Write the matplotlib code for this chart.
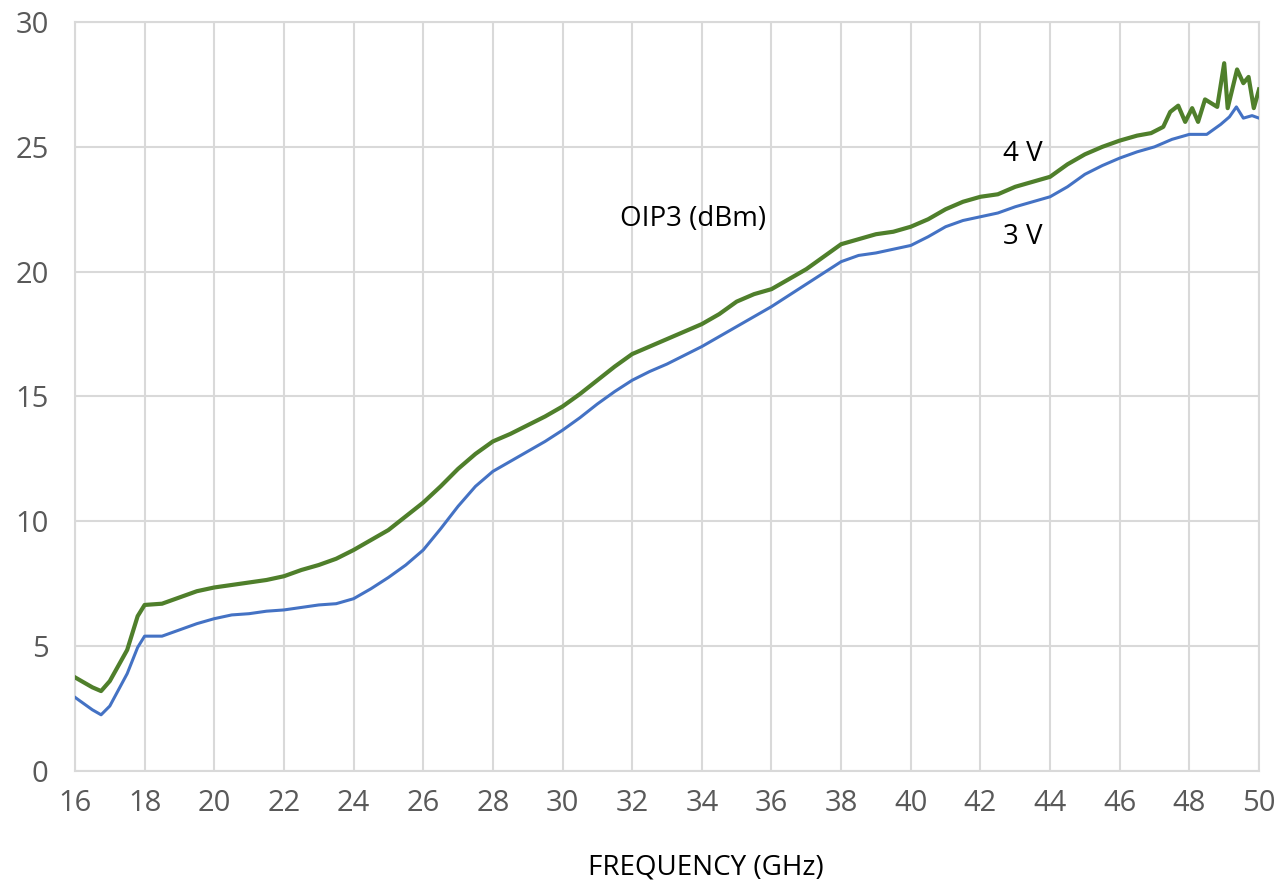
import matplotlib.pyplot as plt

# OIP3 (dBm) vs frequency
freq_4v = [16.0, 16.5, 16.75, 17.0, 17.5, 17.8, 18.0, 18.5, 19.0, 19.5, 20.0, 20.5, 21.0, 21.5,
           22.0, 22.5, 23.0, 23.5, 24.0, 24.5, 25.0, 25.5, 26.0, 26.5, 27.0, 27.5, 28.0, 28.5,
           29.0, 29.5, 30.0, 30.5, 31.0, 31.5, 32.0, 32.5, 33.0, 33.5, 34.0, 34.5, 35.0, 35.5,
           36.0, 36.5, 37.0, 37.5, 38.0, 38.5, 39.0, 39.5, 40.0, 40.5, 41.0, 41.5, 42.0, 42.5,
           43.0, 43.5, 44.0, 44.5, 45.0, 45.5, 46.0, 46.5, 46.9, 47.25, 47.45, 47.68, 47.88,
           48.08, 48.25, 48.45, 48.8, 49.0, 49.1, 49.37, 49.55, 49.7, 49.85, 50.0]
oip3_4v = [3.75, 3.35, 3.2, 3.6, 4.85, 6.2, 6.65, 6.7, 6.95, 7.2, 7.35, 7.45, 7.55, 7.65,
           7.8, 8.05, 8.25, 8.5, 8.85, 9.25, 9.65, 10.2, 10.75, 11.4, 12.1, 12.7, 13.2, 13.5,
           13.85, 14.2, 14.6, 15.1, 15.65, 16.2, 16.7, 17.0, 17.3, 17.6, 17.9, 18.3, 18.8, 19.1,
           19.3, 19.7, 20.1, 20.6, 21.1, 21.3, 21.5, 21.6, 21.8, 22.1, 22.5, 22.8, 23.0, 23.1,
           23.4, 23.6, 23.8, 24.3, 24.7, 25.0, 25.25, 25.45, 25.55, 25.8, 26.4, 26.65, 26.0,
           26.55, 26.0, 26.9, 26.6, 28.35, 26.55, 28.1, 27.55, 27.8, 26.55, 27.3]

freq_3v = [16.0, 16.5, 16.75, 17.0, 17.5, 17.8, 18.0, 18.5, 19.0, 19.5, 20.0, 20.5, 21.0, 21.5,
           22.0, 22.5, 23.0, 23.5, 24.0, 24.5, 25.0, 25.5, 26.0, 26.5, 27.0, 27.5, 28.0, 28.5,
           29.0, 29.5, 30.0, 30.5, 31.0, 31.5, 32.0, 32.5, 33.0, 33.5, 34.0, 34.5, 35.0, 35.5,
           36.0, 36.5, 37.0, 37.5, 38.0, 38.5, 39.0, 39.5, 40.0, 40.5, 41.0, 41.5, 42.0, 42.5,
           43.0, 43.5, 44.0, 44.5, 45.0, 45.5, 46.0, 46.5, 47.0, 47.5, 48.0, 48.5, 48.9, 49.15,
           49.35, 49.55, 49.8, 50.0]
oip3_3v = [2.95, 2.45, 2.25, 2.6, 3.9, 4.95, 5.4, 5.4, 5.65, 5.9, 6.1, 6.25, 6.3, 6.4,
           6.45, 6.55, 6.65, 6.7, 6.9, 7.3, 7.75, 8.25, 8.85, 9.7, 10.6, 11.4, 12.0, 12.4,
           12.8, 13.2, 13.65, 14.15, 14.7, 15.2, 15.65, 16.0, 16.3, 16.65, 17.0, 17.4, 17.8, 18.2,
           18.6, 19.05, 19.5, 19.95, 20.4, 20.65, 20.75, 20.9, 21.05, 21.4, 21.8, 22.05, 22.2, 22.35,
           22.6, 22.8, 23.0, 23.4, 23.9, 24.25, 24.55, 24.8, 25.0, 25.3, 25.5, 25.5, 25.9, 26.2,
           26.6, 26.15, 26.25, 26.15]

x_ticks = list(range(16, 51, 2))
y_ticks = [0, 5, 10, 15, 20, 25, 30]

plt.rcParams['font.family'] = ['Open Sans', 'DejaVu Sans']

fig = plt.figure(figsize=(12.88, 8.81), dpi=100)
ax = fig.add_axes([0.0582, 0.1249, 0.9193, 0.8501])

ax.plot(freq_4v, oip3_4v, color='#4f7f2b', linewidth=3.0, zorder=3)
ax.plot(freq_3v, oip3_3v, color='#4472c4', linewidth=2.2, zorder=3)

ax.set_xlim(16, 50)
ax.set_ylim(0, 30)
ax.set_xticks(x_ticks)
ax.set_yticks(y_ticks)
ax.grid(True, color='#d9d9d9', linewidth=1.5)
ax.set_axisbelow(True)
for s in ax.spines.values():
    s.set_color('#d9d9d9')
    s.set_linewidth(1.5)
ax.tick_params(length=0, labelsize=21, labelcolor='#595959')
ax.tick_params(axis='y', pad=19)
ax.tick_params(axis='x', pad=13)

ax.set_xlabel('FREQUENCY (GHz)', fontsize=20, color='black', labelpad=18)
ax.xaxis.set_label_coords(0.533, -0.11)

ax.text(31.65, 22.1, 'OIP3 (dBm)', fontsize=20, va='center', ha='left')
ax.text(42.65, 24.7, '4 V', fontsize=20, va='center', ha='left')
ax.text(42.65, 21.4, '3 V', fontsize=20, va='center', ha='left')

fig.savefig('out.png', dpi=100)
